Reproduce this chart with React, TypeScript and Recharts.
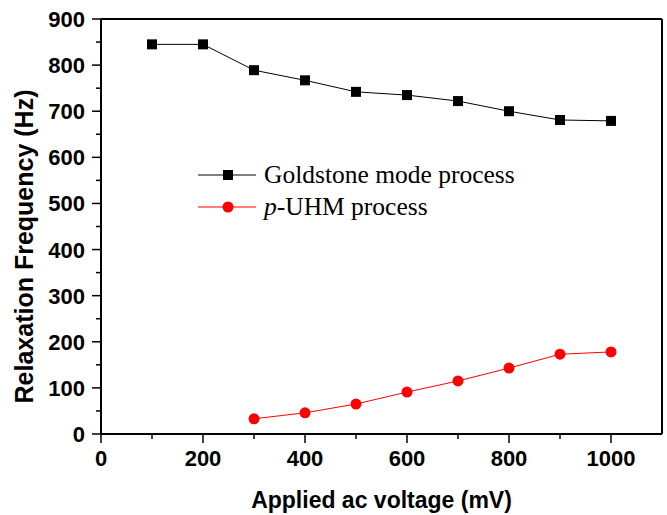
import React from 'react';
import { LineChart, Line, XAxis, YAxis, ReferenceLine } from 'recharts';

const voltages = [100, 200, 300, 400, 500, 600, 700, 800, 900, 1000];
const goldstone = [845, 845, 789, 767, 742, 735, 722, 700, 681, 679];
const puhm: (number | null)[] = [null, null, 33, 46, 65, 91, 115, 143, 173, 178];
const xTicks = [0, 100, 200, 300, 400, 500, 600, 700, 800, 900, 1000];
const yTicks = [0, 50, 100, 150, 200, 250, 300, 350, 400, 450, 500, 550, 600, 650, 700, 750, 800, 850, 900];
const seriesNames = ['Goldstone mode process', 'p-UHM process'];

const data = voltages.map((v, i) => ({ v, g: goldstone[i], p: puhm[i] }));

const SANS = '"Liberation Sans", Arial, sans-serif';
const SERIF = '"Liberation Serif", "Times New Roman", serif';

const XTick = (props: any) => {
  const { x, y, payload } = props;
  const major = payload.value % 200 === 0;
  return (
    <g>
      <line x1={x} x2={x} y1={y} y2={y + (major ? 9 : 5)} stroke="#000" strokeWidth={1.5} />
      {major && (
        <text x={x} y={y + 32} textAnchor="middle" fontFamily={SANS} fontWeight="bold" fontSize={22} fill="#000">
          {payload.value}
        </text>
      )}
    </g>
  );
};

const YTick = (props: any) => {
  const { x, y, payload } = props;
  const major = payload.value % 100 === 0;
  return (
    <g>
      <line x1={x - (major ? 9 : 5)} x2={x} y1={y} y2={y} stroke="#000" strokeWidth={1.5} />
      {major && (
        <text x={x - 16} y={y + 8} textAnchor="end" fontFamily={SANS} fontWeight="bold" fontSize={22} fill="#000">
          {payload.value}
        </text>
      )}
    </g>
  );
};

const Square = (props: any) => {
  const { cx, cy, index } = props;
  if (cx == null || cy == null) return <g key={`s${index}`} />;
  return <rect key={`s${index}`} x={cx - 5} y={cy - 5} width={10} height={10} fill="#000" />;
};

const Circle = (props: any) => {
  const { cx, cy, index, value } = props;
  if (cx == null || cy == null || value == null) return <g key={`c${index}`} />;
  return <circle key={`c${index}`} cx={cx} cy={cy} r={5.5} fill="#ff0000" />;
};

const LegendBox = () => (
  <div style={{ position: 'absolute', left: 198, top: 159, fontFamily: SERIF, fontSize: 25.5, color: '#000', lineHeight: '32px' }}>
    <div style={{ display: 'flex', alignItems: 'center', whiteSpace: 'nowrap' }}>
      <svg width={66} height={32} style={{ display: 'block' }}>
        <line x1={0} x2={58} y1={16} y2={16} stroke="#000" strokeWidth={1} />
        <rect x={25} y={11} width={10} height={10} fill="#000" />
      </svg>
      <span>{seriesNames[0]}</span>
    </div>
    <div style={{ display: 'flex', alignItems: 'center', whiteSpace: 'nowrap' }}>
      <svg width={66} height={32} style={{ display: 'block' }}>
        <line x1={0} x2={58} y1={16} y2={16} stroke="#ff0000" strokeWidth={1} />
        <circle cx={30} cy={16} r={5.5} fill="#ff0000" />
      </svg>
      <span><i>p</i>-UHM process</span>
    </div>
  </div>
);

const XTitle = (props: any) => {
  const vb = props.viewBox || {};
  const cx = vb.x + vb.width / 2;
  return (
    <text x={cx} y={vb.y + 74} textAnchor="middle" fontFamily={SANS} fontWeight="bold" fontSize={23} fill="#000">
      Applied ac voltage (mV)
    </text>
  );
};

const YTitle = (props: any) => {
  const vb = props.viewBox || {};
  const cy = vb.y + vb.height / 2 + 20;
  const tx = 33;
  return (
    <text x={tx} y={cy} transform={`rotate(-90, ${tx}, ${cy})`} textAnchor="middle" fontFamily={SANS} fontWeight="bold" fontSize={25} fill="#000">
      Relaxation Frequency (Hz)
    </text>
  );
};

export default function App() {
  return (
    <div style={{ position: 'absolute', left: 0, top: 0, width: 667, height: 515, background: '#fff' }}>
      <LineChart width={667} height={515} data={data} margin={{ top: 19, right: 5, bottom: 0, left: 0 }}>
        <XAxis
          dataKey="v"
          type="number"
          domain={[0, 1100]}
          ticks={xTicks}
          height={81}
          tickSize={0}
          tickMargin={0}
          tickLine={false}
          axisLine={{ stroke: '#000', strokeWidth: 2 }}
          tick={<XTick />}
          interval={0}
          label={<XTitle />}
        />
        <YAxis
          type="number"
          domain={[0, 900]}
          ticks={yTicks}
          width={101}
          tickSize={0}
          tickMargin={0}
          tickLine={false}
          axisLine={{ stroke: '#000', strokeWidth: 2 }}
          tick={<YTick />}
          interval={0}
          label={<YTitle />}
        />
        <ReferenceLine y={900} stroke="#000" strokeWidth={2} />
        <ReferenceLine x={1100} stroke="#000" strokeWidth={2} />
        <Line dataKey="g" stroke="#000" strokeWidth={1} dot={<Square />} isAnimationActive={false} connectNulls={false} />
        <Line dataKey="p" stroke="#ff0000" strokeWidth={1} dot={<Circle />} isAnimationActive={false} />
      </LineChart>
      <LegendBox />
    </div>
  );
}
